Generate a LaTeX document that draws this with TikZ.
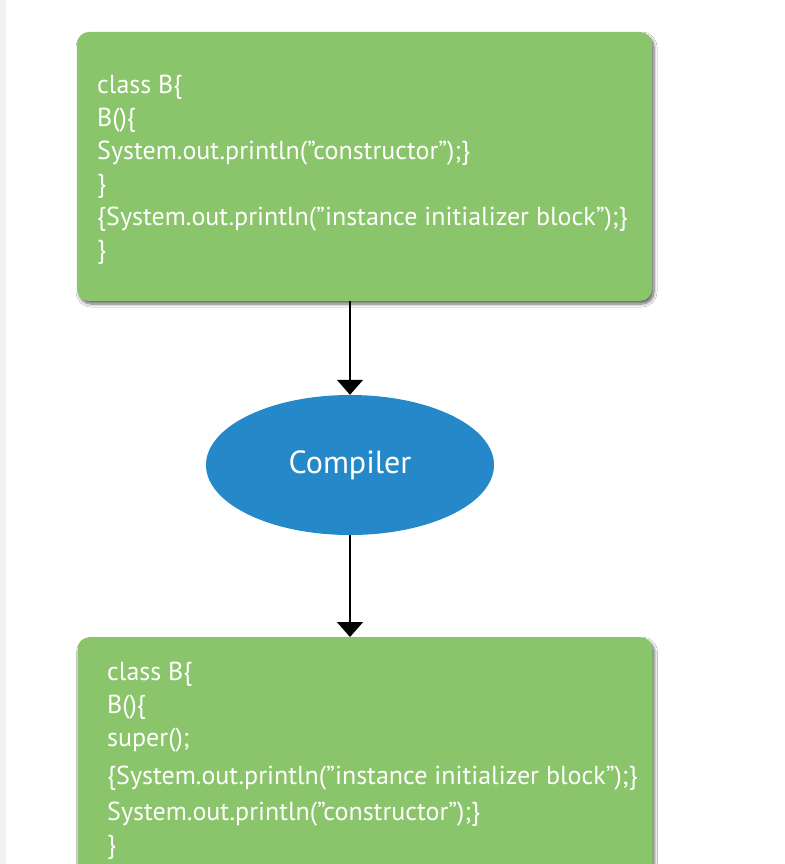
\documentclass[tikz,border=0pt]{standalone}
\usepackage{fontspec}
\setmainfont{PT Sans}
\usetikzlibrary{arrows.meta,shapes.geometric,shadows.blur}
\definecolor{boxgreen}{HTML}{8AC56B}
\definecolor{ellblue}{HTML}{2588C8}
\definecolor{stripgray}{HTML}{F2F2F2}
\begin{document}
\begin{tikzpicture}[x=1pt,y=-1pt,
  codebox/.style={draw=none,fill=boxgreen,rounded corners=12pt,
    blur shadow={shadow xshift=2pt,shadow yshift=-3pt,shadow blur steps=6,shadow opacity=60,shadow blur radius=3pt}},
  codetext/.style={text=white,font=\fontsize{26}{33}\selectfont,align=left,inner sep=0pt},
  flow/.style={line width=1.6pt,-{Triangle[width=26pt,length=15pt]}}]
\useasboundingbox (0,0) rectangle (784,864);
\clip (0,0) rectangle (784,864);
\fill[white] (0,0) rectangle (784,864);
\fill[stripgray] (0,0) rectangle (6,864);
% top box
\node[codebox,minimum width=575pt,minimum height=269pt,inner sep=0pt] (box1) at (364.5,166.5) {};
\node[codetext,anchor=north west] (code1) at (97,75) {class B\{\\B()\{\\System.out.println(”constructor”);\}\\\}\\\{System.out.println(”instance initializer block”);\}\\\}};
% ellipse
\node[ellipse,fill=ellblue,minimum width=288pt,minimum height=140pt,inner sep=0pt,text=white,font=\fontsize{32}{36}\selectfont] (comp) at (350,465) {Compiler};
% bottom box
\node[codebox,minimum width=575pt,minimum height=320pt,inner sep=0pt,anchor=north] (box2) at (365,637) {};
\node[codetext,anchor=north west] (code2) at (107,662) {class B\{\\B()\{\\super();\\[5pt]\{System.out.println(”instance initializer block”);\}\\[3pt]System.out.println(”constructor”);\}\\\}};
% arrows
\draw[flow] (350,301) -- (comp.north);
\draw[flow] (comp.south) -- (350,637);
\end{tikzpicture}
\end{document}
